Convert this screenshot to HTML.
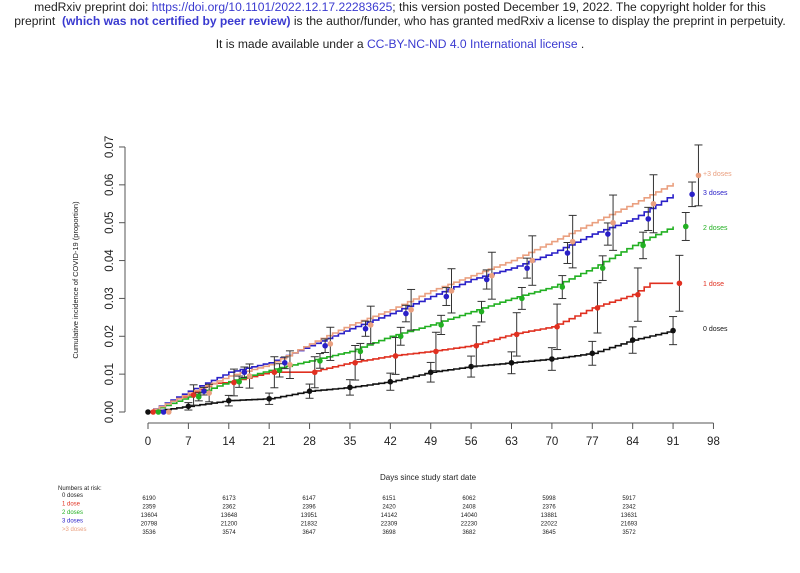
<!DOCTYPE html>
<html><head><meta charset="utf-8"><style>
body{margin:0;background:#fff;width:800px;height:573px;overflow:hidden;font-family:"Liberation Sans",sans-serif}
.h{position:absolute;left:0;width:800px;text-align:center;font-size:12.1px;color:#222;white-space:nowrap}
a,.b{color:#3a3ad0;text-decoration:none}
.b{font-weight:bold}
</style></head><body>
<div class="h" style="top:0px">medRxiv preprint doi: <a>https://doi.org/10.1101/2022.12.17.22283625</a>; this version posted December 19, 2022. The copyright holder for this</div>
<div class="h" style="top:14px">preprint &nbsp;<span class="b">(which was not certified by peer review)</span> is the author/funder, who has granted medRxiv a license to display the preprint in perpetuity.</div>
<div class="h" style="top:37px">It is made available under a <a>CC-BY-NC-ND 4.0 International license</a> .</div>
<svg id="s" width="800" height="573" style="position:absolute;left:0;top:0" font-family="Liberation Sans, sans-serif"></svg>
<script>
var s=document.getElementById('s'),o='';
function X(d){return 148+d*5.77}
function Y(v){return 412-v*3786}
o+='<line x1="125" y1="147" x2="125" y2="412" stroke="#555" stroke-width="1"/>';
for(var i=0;i<=7;i++){var y=Y(i/100);o+='<line x1="119" y1="'+y+'" x2="125" y2="'+y+'" stroke="#555"/>';
o+='<text transform="translate(113,'+y+') rotate(-90)" text-anchor="middle" font-size="11.5" fill="#222">'+(i/100).toFixed(2)+'</text>';}
o+='<line x1="148" y1="423" x2="'+X(98)+'" y2="423" stroke="#555"/>';
for(var d=0;d<=98;d+=7){var x=X(d);o+='<line x1="'+x+'" y1="423" x2="'+x+'" y2="429" stroke="#555"/><text x="'+x+'" y="445" text-anchor="middle" font-size="11.5" fill="#222">'+d+'</text>';}
o+='<text transform="translate(78,280) rotate(-90)" text-anchor="middle" font-size="7.5" fill="#222">Cumulative incidence of COVID-19 (proportion)</text>';
o+='<text x="428" y="480" text-anchor="middle" font-size="8" fill="#222">Days since study start date</text>';
var S=[
{c:'#111',n:6000,off:0,k:[[0,0],[7,.0015],[14,.003],[21,.0035],[28,.0055],[35,.0065],[42,.008],[49,.0105],[56,.012],[63,.013],[70,.014],[77,.0155],[84,.019],[91,.0215]],lab:'0 doses',ly:331},
{c:'#e03020',n:2400,off:1,k:[[0,0],[4,.003],[7,.0045],[11,.0075],[14,.0078],[21,.0105],[28,.0105],[35,.013],[42,.0148],[49,.016],[56,.0175],[63,.0205],[70,.0225],[77,.0275],[84,.031],[87,.034],[91,.034]],lab:'1 dose',ly:286},
{c:'#22b022',n:13800,off:2,k:[[0,0],[7,.004],[14,.008],[21,.011],[28,.0135],[35,.016],[42,.02],[49,.023],[56,.0265],[63,.03],[70,.033],[77,.038],[84,.044],[91,.049]],lab:'2 doses',ly:230},
{c:'#2a20c8',n:21000,off:3,k:[[0,0],[7,.0055],[14,.0105],[21,.013],[28,.0175],[35,.022],[42,.026],[49,.0305],[56,.035],[63,.038],[70,.042],[77,.047],[84,.051],[91,.0575]],lab:'3 doses',ly:195},
{c:'#eaa080',n:3600,off:4,k:[[0,0],[7,.005],[14,.0095],[21,.0125],[28,.018],[35,.023],[42,.027],[49,.032],[56,.036],[63,.04],[70,.045],[77,.05],[84,.055],[91,.0605]],lab:'+3 doses',ly:176}];
function val(k,d){for(var i=1;i<k.length;i++){if(d<=k[i][0]){var a=k[i-1],b=k[i];return a[1]+(b[1]-a[1])*(d-a[0])/(b[0]-a[0]);}}return k[k.length-1][1];}
var bars='';
S.forEach(function(q){
 var p='M'+X(0)+','+Y(0);
 for(var d=1;d<=91;d++){var v=val(q.k,d);p+='H'+X(d).toFixed(1)+'V'+Y(v).toFixed(1);}
 o+='<path d="'+p+'" fill="none" stroke="'+q.c+'" stroke-width="1.6"/>';
 for(var d=0;d<=91;d+=7){var v=val(q.k,d);var dd=d+q.off*0.9;if(d==91)dd=91+q.off*1.1;var x=X(dd),e=1.96*Math.sqrt(v/q.n);
 if(d==91&&q.off==4)v=0.0625;
 if(e>0){bars+='<g stroke="#333" stroke-width="1"><line x1="'+x+'" y1="'+Y(v-e)+'" x2="'+x+'" y2="'+Y(v+e)+'"/><line x1="'+(x-4)+'" y1="'+Y(v-e)+'" x2="'+(x+4)+'" y2="'+Y(v-e)+'"/><line x1="'+(x-4)+'" y1="'+Y(v+e)+'" x2="'+(x+4)+'" y2="'+Y(v+e)+'"/></g>';}
 bars+='<circle cx="'+x+'" cy="'+Y(v)+'" r="2.8" fill="'+q.c+'"/>';}
 o+='<text x="703" y="'+q.ly+'" font-size="7" fill="'+q.c+'">'+q.lab+'</text>';
});
o+=bars;
o+='<text x="58" y="490" font-size="6" fill="#222">Numbers at risk:</text>';
var R=[['6190','6173','6147','6151','6062','5998','5917'],['2359','2362','2396','2420','2408','2376','2342'],['13604','13648','13951','14142','14040','13881','13631'],['20798','21200','21832','22309','22230','22022','21693'],['3536','3574','3647','3698','3682','3645','3572']];
var L=['0 doses','1 dose','2 doses','3 doses','>3 doses'],C=['#222','#e03020','#22b022','#2a20c8','#eaa080'];
for(var r=0;r<5;r++){var y=498+r*8.5;o+='<text x="62" y="'+(y-1)+'" font-size="6" fill="'+C[r]+'">'+L[r]+'</text>';
 for(var c=0;c<7;c++)o+='<text x="'+(149+c*80)+'" y="'+(y+2)+'" text-anchor="middle" font-size="6" fill="#222">'+R[r][c]+'</text>';}
s.innerHTML=o;
</script>
</body></html>
